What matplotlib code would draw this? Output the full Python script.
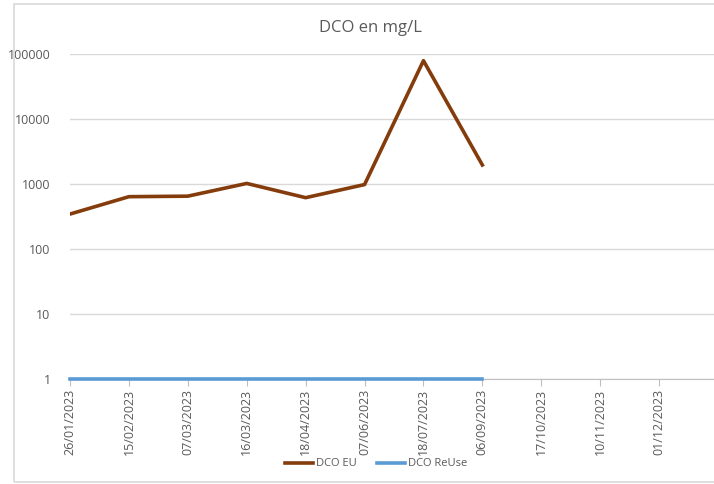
import numpy as np
import matplotlib.pyplot as plt
from matplotlib.patches import Rectangle

# dates (catégories) - la dernière est coupée au bord droit du graphique
dates = ["26/01/2023", "15/02/2023", "07/03/2023", "16/03/2023", "18/04/2023",
         "07/06/2023", "18/07/2023", "06/09/2023", "17/10/2023", "10/11/2023",
         "01/12/2023", ""]
dco_eu = [345, 638, 650, 1020, 616, 980, 78900, 1960]
dco_reuse = [1, 1, 1, 1, 1, 1, 1, 1]
yticks = [1, 10, 100, 1000, 10000, 100000]

W, H = 714, 484
fig = plt.figure(figsize=(W / 100, H / 100), dpi=100)
plt.rcParams['font.family'] = ['Open Sans', 'DejaVu Sans']

# cadre du graphique
fig.patches.append(Rectangle((14 / W, 2 / H), 800 / W, 478 / H, transform=fig.transFigure,
                             fill=False, edgecolor='#d9d9d9', linewidth=1.2))

left, right, top, bottom = 70, 718, 54, 379
ax = fig.add_axes([left / W, 1 - bottom / H, (right - left) / W, (bottom - top) / H])

x = np.arange(len(dates))
ax.plot(x[:len(dco_eu)], dco_eu, color='#843c0c', linewidth=2.6, label='DCO EU', zorder=3)
ax.plot(x[:len(dco_reuse)], dco_reuse, color='#5b9bd5', linewidth=2.6, label='DCO ReUse',
        zorder=4, clip_on=False)

ax.set_yscale('log')
ax.set_ylim(1, 100000)
ax.set_xlim(0, len(dates) - 1)
ax.set_yticks(yticks)
ax.set_yticklabels([str(v) for v in yticks])
ax.minorticks_off()
ax.tick_params(axis='y', length=0, pad=14, labelsize=9, labelcolor='#595959')
ax.set_xticks(x)
ax.set_xticklabels(dates, rotation=90)
ax.tick_params(axis='x', length=5, width=0.8, color='#bfbfbf', labelsize=9,
               labelcolor='#595959', pad=2)
ax.grid(axis='y', color='#d9d9d9', linewidth=1)
ax.set_axisbelow(True)
for s in ['left', 'right', 'top']:
    ax.spines[s].set_visible(False)
ax.spines['bottom'].set_color('#bfbfbf')

fig.text(370 / W, 1 - 28 / H, 'DCO en mg/L', ha='center', va='center', fontsize=12,
         color='#595959')
fig.legend(loc='center', bbox_to_anchor=(376 / W, 1 - 464 / H), ncol=2, frameon=False,
           fontsize=8, handlelength=2.5, columnspacing=1.8, handletextpad=0.3,
           labelcolor='#595959')

fig.savefig('out.png', dpi=100)
